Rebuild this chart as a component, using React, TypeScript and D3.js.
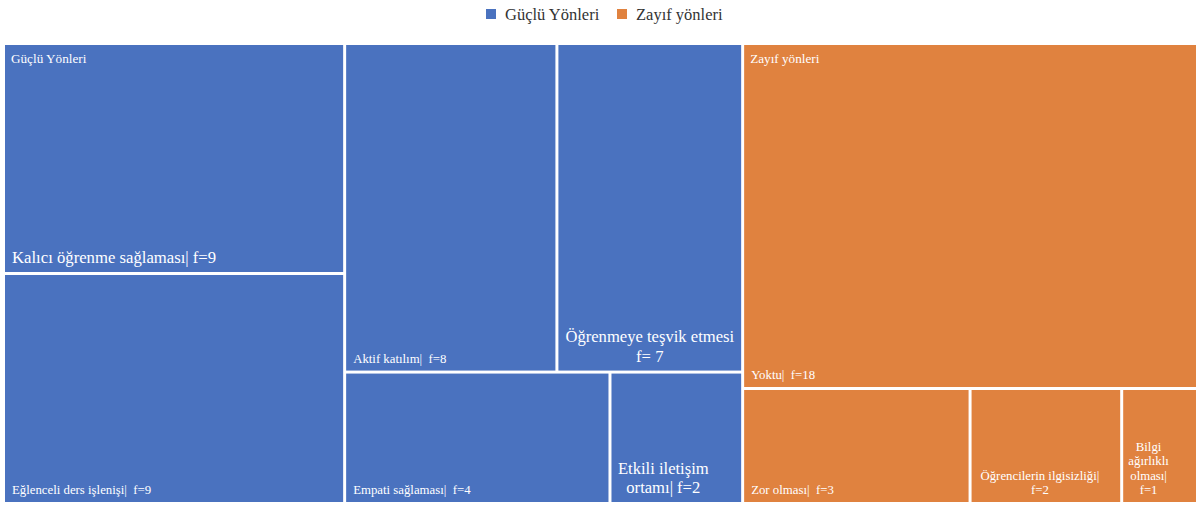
import React, { useEffect, useRef } from "react";
import * as d3 from "d3";

interface Item {
  name: string;
  value: number;
}

const groups = ["Güçlü Yönleri", "Zayıf yönleri"];

const strengths: Item[] = [
  { name: "Kalıcı öğrenme sağlaması| f=9", value: 9 },
  { name: "Eğlenceli ders işlenişi|  f=9", value: 9 },
  { name: "Aktif katılım|  f=8", value: 8 },
  { name: "Öğrenmeye teşvik etmesi\nf= 7", value: 7 },
  { name: "Empati sağlaması|  f=4", value: 4 },
  { name: "Etkili iletişim\nortamı| f=2", value: 2 },
];

const weaknesses: Item[] = [
  { name: "Yoktu|  f=18", value: 18 },
  { name: "Zor olması|  f=3", value: 3 },
  { name: "Öğrencilerin ilgisizliği|\nf=2", value: 2 },
  { name: "Bilgi\nağırlıklı\nolması|\nf=1", value: 1 },
];

const colors = ["#4a72bf", "#e0823f"];

// label look per leaf (size, alignment, line height, nudge)
const labelStyle: Record<string, { size: number; center?: boolean; lh?: number; dx?: number }> = {
  "Kalıcı öğrenme sağlaması| f=9": { size: 16.7 },
  "Öğrenmeye teşvik etmesi\nf= 7": { size: 16.6, center: true, lh: 20 },
  "Etkili iletişim\nortamı| f=2": { size: 16.6, center: true, lh: 19, dx: -13 },
  "Öğrencilerin ilgisizliği|\nf=2": { size: 12.8, center: true, lh: 14, dx: -6 },
  "Bilgi\nağırlıklı\nolması|\nf=1": { size: 12.8, center: true, lh: 14.5, dx: -11 },
};

const W = 1196;
const H = 505;
const font = "'Liberation Serif', 'Times New Roman', serif";

const App: React.FC = () => {
  const ref = useRef<SVGSVGElement>(null);

  useEffect(() => {
    if (!ref.current) return;
    const svg = d3.select(ref.current);
    svg.selectAll("*").remove();

    const rootData = {
      name: "root",
      children: [
        { name: groups[0], children: strengths },
        { name: groups[1], children: weaknesses },
      ],
    };

    const root = d3
      .hierarchy<any>(rootData)
      .sum((d) => d.value || 0)
      .sort((a, b) => (b.value || 0) - (a.value || 0));

    d3.treemap<any>().tile(d3.treemapSquarify).size([1191, 457]).paddingInner(3)(root);

    const g = svg.append("g").attr("transform", "translate(5,45)");

    const color = d3.scaleOrdinal<string, string>().domain(groups).range(colors);

    const leaves = root.leaves() as d3.HierarchyRectangularNode<any>[];

    g.selectAll("rect")
      .data(leaves)
      .enter()
      .append("rect")
      .attr("x", (d) => d.x0)
      .attr("y", (d) => d.y0)
      .attr("width", (d) => d.x1 - d.x0)
      .attr("height", (d) => d.y1 - d.y0)
      .attr("fill", (d) => color(d.parent!.data.name));

    // leaf labels
    leaves.forEach((d) => {
      const st = labelStyle[d.data.name] || { size: 12.8 };
      const lines = d.data.name.split("\n");
      const lh = st.lh || st.size * 1.2;
      const x = st.center ? (d.x0 + d.x1) / 2 + (st.dx || 0) : d.x0 + 7;
      const lastY = d.y1 - (st.size > 14 ? 9 : 8);
      const t = g
        .append("text")
        .attr("fill", "#fff")
        .attr("font-family", font)
        .attr("font-size", st.size)
        .attr("text-anchor", st.center ? "middle" : "start")
        .style("white-space", "pre");
      lines.forEach((line: string, i: number) => {
        t.append("tspan")
          .attr("x", x)
          .attr("y", lastY - (lines.length - 1 - i) * lh)
          .text(line);
      });
    });

    // group labels
    (root.children as d3.HierarchyRectangularNode<any>[]).forEach((p) => {
      g.append("text")
        .attr("x", p.x0 + 6)
        .attr("y", p.y0 + 18)
        .attr("fill", "#fff")
        .attr("font-family", font)
        .attr("font-size", 13.2)
        .text(p.data.name);
    });

    // legend
    const legend = svg.append("g").attr("font-family", font).attr("font-size", 16.5);
    const legendX = [486, 617];
    groups.forEach((name, i) => {
      legend
        .append("rect")
        .attr("x", legendX[i])
        .attr("y", 9)
        .attr("width", 10)
        .attr("height", 10)
        .attr("fill", colors[i]);
      legend
        .append("text")
        .attr("x", legendX[i] + 19)
        .attr("y", 20)
        .attr("fill", "#333")
        .text(name);
    });
  }, []);

  return (
    <svg
      ref={ref}
      width={W}
      height={H}
      style={{ position: "absolute", left: 0, top: 0, background: "#fff" }}
    />
  );
};

export default App;
